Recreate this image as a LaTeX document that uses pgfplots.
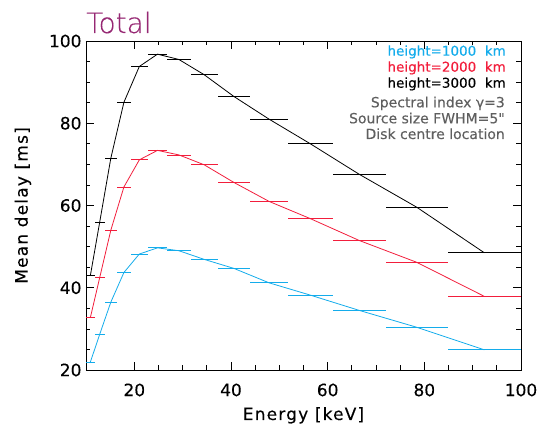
\documentclass[border=0pt]{standalone}
\usepackage{fontspec}
\setmainfont{DejaVu Sans ExtraLight}[FakeBold=0.2]
\usepackage{pgfplots}
\pgfplotsset{compat=1.18}
\definecolor{cblue}{RGB}{20,172,235}
\definecolor{cred}{RGB}{242,30,60}
\definecolor{cpurple}{RGB}{150,40,115}
\definecolor{cgray}{RGB}{95,95,95}
\newcommand{\lblfont}{\fontsize{17}{20}\selectfont\bfseries\addfontfeature{LetterSpace=7}}
\begin{document}
\bfseries
\begin{tikzpicture}
\begin{axis}[
  name=ax,
  scale only axis,
  width=435pt, height=329pt,
  xmin=10, xmax=100, ymin=20, ymax=100,
  xtick={20,40,60,80,100}, ytick={20,40,60,80,100},
  minor tick num=3,
  tick align=inside,
  major tick length=8pt, minor tick length=4.5pt,
  axis line style={line width=0.7pt},
  every tick/.style={line width=0.7pt, black},
  /pgf/number format/assume math mode=true,
  ticklabel style={font=\fontsize{17}{20}\selectfont\bfseries},
  xticklabel style={yshift=-10pt},
  yticklabel style={xshift=-1pt},
  xlabel={Energy [keV]},
  ylabel={Mean delay [ms]},
  every axis x label/.style={at={(axis description cs:0.5,-0.152)}, anchor=base, font=\lblfont},
  every axis y label/.style={at={(axis description cs:-0.145,0.5)}, rotate=90, anchor=center, font=\lblfont},
  clip=true,
]
% blue: height=1000 km
\addplot[cblue, line width=0.8pt, mark=none,
  error bars/.cd, x dir=both, x explicit, error mark=none,
  error bar style={line width=0.8pt}]
  table[x=x, y=y, x error=ex] {
x y ex
10.894 21.9 0.894
12.842 28.7 1.054
15.137 36.5 1.242
17.843 43.7 1.464
21.033 48.2 1.726
24.793 49.7 2.035
29.225 49.0 2.398
34.450 46.9 2.827
40.608 44.7 3.332
47.868 41.2 3.928
56.425 38.2 4.630
66.512 34.5 5.458
78.402 30.4 6.433
92.417 24.9 7.583
};
% red: height=2000 km
\addplot[cred, line width=0.8pt, mark=none,
  error bars/.cd, x dir=both, x explicit, error mark=none,
  error bar style={line width=0.8pt}]
  table[x=x, y=y, x error=ex] {
x y ex
10.894 32.7 0.894
12.842 42.5 1.054
15.137 54.0 1.242
17.843 64.5 1.464
21.033 71.1 1.726
24.793 73.4 2.035
29.225 72.3 2.398
34.450 69.9 2.827
40.608 65.6 3.332
47.868 61.0 3.928
56.425 56.8 4.630
66.512 51.5 5.458
78.402 46.2 6.433
92.417 37.9 7.583
};
% black: height=3000 km
\addplot[black, line width=0.8pt, mark=none,
  error bars/.cd, x dir=both, x explicit, error mark=none,
  error bar style={line width=0.8pt}]
  table[x=x, y=y, x error=ex] {
x y ex
10.894 42.9 0.894
12.842 56.0 1.054
15.137 71.5 1.242
17.843 85.1 1.464
21.033 93.8 1.726
24.793 96.8 2.035
29.225 95.5 2.398
34.450 91.8 2.827
40.608 86.5 3.332
47.868 81.0 3.928
56.425 75.0 4.630
66.512 67.6 5.458
78.402 59.6 6.433
92.417 48.5 7.583
};
\end{axis}
\begin{scope}[every node/.style={font=\fontsize{13.5}{16}\selectfont\bfseries, inner sep=0pt}]
\node[anchor=base west, text=cpurple, font=\fontsize{28}{30}\selectfont\mdseries, inner sep=0pt] at ([yshift=8pt]ax.north west) {Total};
\node[anchor=base east, text=cblue] at ([xshift=-15pt,yshift=-14.7pt]ax.north east) {height=1000\ \ km};
\node[anchor=base east, text=cred] at ([xshift=-15pt,yshift=-30.7pt]ax.north east) {height=2000\ \ km};
\node[anchor=base east, text=black] at ([xshift=-15pt,yshift=-46.7pt]ax.north east) {height=3000\ \ km};
\node[anchor=base east, text=cgray, font=\fontsize{14}{16}\selectfont\bfseries] at ([xshift=-16pt,yshift=-66.3pt]ax.north east) {Spectral index γ=3};
\node[anchor=base east, text=cgray, font=\fontsize{14}{16}\selectfont\bfseries] at ([xshift=-16pt,yshift=-82.3pt]ax.north east) {Source size FWHM=5\XeTeXglyph\XeTeXcharglyph"22\relax};
\node[anchor=base east, text=cgray, font=\fontsize{14}{16}\selectfont\bfseries] at ([xshift=-16pt,yshift=-98pt]ax.north east) {Disk centre location};
\end{scope}
\pgfresetboundingbox
\path ([xshift=-86pt,yshift=-58pt]ax.south west) rectangle ([xshift=18pt,yshift=41pt]ax.north east);
\end{tikzpicture}
\end{document}
